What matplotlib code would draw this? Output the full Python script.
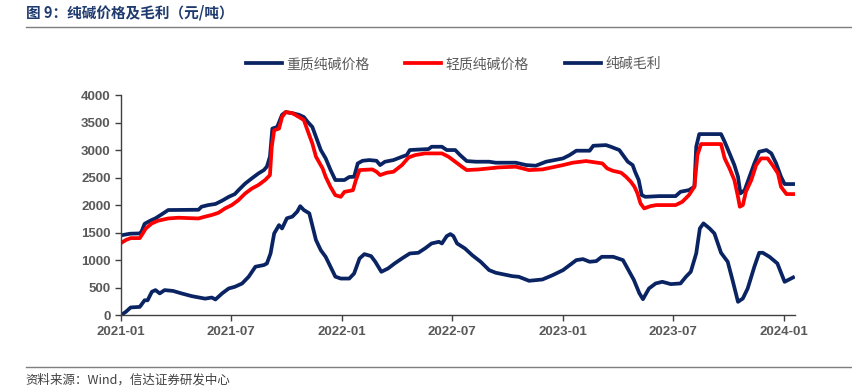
import pandas as pd
import matplotlib
matplotlib.use('Agg')
import matplotlib.pyplot as plt
import matplotlib.dates as mdates
from matplotlib.lines import Line2D

plt.rcParams['font.family'] = ['Liberation Sans', 'Noto Sans CJK SC', 'DejaVu Sans']

# 重质纯碱价格
heavy_dates = ['2021-01-01', '2021-01-16', '2021-02-01', '2021-02-04', '2021-02-09', '2021-02-19',
               '2021-02-27', '2021-03-09', '2021-03-20', '2021-05-09', '2021-05-14', '2021-05-25',
               '2021-06-06', '2021-06-17', '2021-06-28', '2021-07-08', '2021-07-14', '2021-07-25',
               '2021-08-05', '2021-08-16', '2021-08-25', '2021-08-30', '2021-09-04', '2021-09-08',
               '2021-09-16', '2021-09-24', '2021-09-30', '2021-10-11', '2021-10-22', '2021-10-30',
               '2021-11-05', '2021-11-13', '2021-11-19', '2021-11-27', '2021-12-05', '2021-12-13',
               '2021-12-21', '2022-01-05', '2022-01-13', '2022-01-21', '2022-01-27', '2022-02-04',
               '2022-02-15', '2022-02-27', '2022-03-05', '2022-03-13', '2022-03-27', '2022-04-10',
               '2022-04-18', '2022-04-23', '2022-05-13', '2022-05-24', '2022-05-29', '2022-06-15',
               '2022-06-23', '2022-07-07', '2022-07-15', '2022-07-26', '2022-08-10', '2022-09-01',
               '2022-09-12', '2022-10-15', '2022-11-01', '2022-11-17', '2022-12-04', '2023-01-01',
               '2023-01-12', '2023-01-23', '2023-02-14', '2023-02-20', '2023-03-13', '2023-03-21',
               '2023-04-04', '2023-04-10', '2023-04-18', '2023-04-26', '2023-04-30', '2023-05-06',
               '2023-05-11', '2023-05-17', '2023-06-09', '2023-07-06', '2023-07-14', '2023-07-28',
               '2023-08-06', '2023-08-09', '2023-08-14', '2023-09-19', '2023-09-25', '2023-10-03',
               '2023-10-11', '2023-10-17', '2023-10-21', '2023-10-28', '2023-11-05', '2023-11-13',
               '2023-11-21', '2023-12-03', '2023-12-11', '2023-12-19', '2023-12-27', '2024-01-02',
               '2024-01-16']
heavy_price = [1450, 1480, 1485, 1520, 1660, 1720, 1760, 1830, 1910, 1915, 1970, 2000,
               2020, 2080, 2150, 2200, 2270, 2390, 2485, 2575, 2636, 2700, 2880, 3390,
               3420, 3640, 3690, 3670, 3640, 3600, 3515, 3420, 3240, 3000, 2850, 2640,
               2455, 2455, 2510, 2515, 2757, 2805, 2818, 2805, 2727, 2788, 2818, 2878,
               2909, 3000, 3012, 3018, 3060, 3060, 3000, 3000, 2909, 2800, 2788, 2788,
               2770, 2770, 2727, 2715, 2788, 2848, 2909, 2988, 2988, 3078, 3090, 3060,
               3000, 2909, 2788, 2727, 2606, 2455, 2182, 2150, 2163, 2163, 2242, 2272,
               2333, 3060, 3290, 3290, 3150, 2940, 2727, 2515, 2212, 2272, 2515, 2757,
               2969, 3000, 2940, 2757, 2515, 2382, 2382]

# 轻质纯碱价格
light_dates = ['2021-01-01', '2021-01-09', '2021-01-17', '2021-02-01', '2021-02-06', '2021-02-11',
               '2021-02-21', '2021-03-03', '2021-03-20', '2021-04-06', '2021-05-09', '2021-05-20',
               '2021-05-31', '2021-06-11', '2021-06-22', '2021-07-03', '2021-07-14', '2021-07-25',
               '2021-08-05', '2021-08-16', '2021-08-27', '2021-09-04', '2021-09-07', '2021-09-11',
               '2021-09-19', '2021-09-24', '2021-09-30', '2021-10-11', '2021-10-22', '2021-10-30',
               '2021-11-05', '2021-11-13', '2021-11-19', '2021-11-30', '2021-12-05', '2021-12-13',
               '2021-12-21', '2021-12-30', '2022-01-05', '2022-01-19', '2022-01-24', '2022-01-30',
               '2022-02-20', '2022-02-27', '2022-03-05', '2022-03-16', '2022-03-27', '2022-04-10',
               '2022-04-21', '2022-05-02', '2022-05-18', '2022-06-15', '2022-06-26', '2022-07-07',
               '2022-07-18', '2022-07-26', '2022-08-15', '2022-09-17', '2022-10-15', '2022-11-06',
               '2022-11-28', '2023-01-01', '2023-01-17', '2023-02-08', '2023-03-07', '2023-03-15',
               '2023-03-24', '2023-04-07', '2023-04-15', '2023-04-23', '2023-04-29', '2023-05-04',
               '2023-05-09', '2023-05-15', '2023-05-26', '2023-06-04', '2023-07-06', '2023-07-17',
               '2023-07-28', '2023-08-06', '2023-08-11', '2023-08-17', '2023-09-19', '2023-09-25',
               '2023-10-03', '2023-10-11', '2023-10-17', '2023-10-20', '2023-10-25', '2023-10-30',
               '2023-11-08', '2023-11-16', '2023-11-24', '2023-12-05', '2023-12-13', '2023-12-22',
               '2023-12-27', '2024-01-05', '2024-01-16']
light_price = [1310, 1365, 1400, 1400, 1485, 1575, 1667, 1715, 1757, 1770, 1757, 1790,
               1820, 1860, 1940, 2000, 2090, 2210, 2300, 2365, 2455, 2545, 3060, 3360,
               3390, 3600, 3690, 3670, 3600, 3545, 3360, 3120, 2880, 2666, 2515, 2330,
               2180, 2150, 2240, 2270, 2455, 2636, 2648, 2606, 2545, 2588, 2606, 2727,
               2866, 2909, 2939, 2939, 2878, 2788, 2697, 2636, 2648, 2685, 2697, 2636,
               2648, 2727, 2770, 2800, 2757, 2666, 2624, 2588, 2515, 2424, 2333, 2212,
               2030, 1940, 1982, 2000, 2000, 2060, 2182, 2333, 2909, 3109, 3109, 2848,
               2666, 2455, 2150, 1970, 2000, 2242, 2455, 2727, 2848, 2848, 2727, 2575,
               2333, 2200, 2200]

# 纯碱毛利
margin_dates = ['2021-01-01', '2021-01-09', '2021-01-17', '2021-02-01', '2021-02-09', '2021-02-14',
                '2021-02-21', '2021-02-27', '2021-03-06', '2021-03-14', '2021-03-28', '2021-04-11',
                '2021-04-28', '2021-05-20', '2021-05-31', '2021-06-06', '2021-06-17', '2021-06-28',
                '2021-07-08', '2021-07-20', '2021-07-31', '2021-08-11', '2021-08-25', '2021-08-30',
                '2021-09-05', '2021-09-11', '2021-09-19', '2021-09-24', '2021-10-02', '2021-10-11',
                '2021-10-19', '2021-10-24', '2021-10-30', '2021-11-08', '2021-11-19', '2021-11-27',
                '2021-12-05', '2021-12-13', '2021-12-21', '2021-12-30', '2022-01-13', '2022-01-21',
                '2022-01-30', '2022-02-07', '2022-02-18', '2022-02-25', '2022-03-07', '2022-03-18',
                '2022-03-29', '2022-04-10', '2022-04-23', '2022-05-07', '2022-05-18', '2022-05-29',
                '2022-06-10', '2022-06-15', '2022-06-23', '2022-06-29', '2022-07-04', '2022-07-10',
                '2022-07-23', '2022-08-04', '2022-08-18', '2022-09-01', '2022-09-12', '2022-09-23',
                '2022-10-09', '2022-10-20', '2022-11-06', '2022-11-17', '2022-11-28', '2022-12-15',
                '2023-01-01', '2023-01-23', '2023-02-03', '2023-02-14', '2023-02-25', '2023-03-06',
                '2023-03-25', '2023-04-10', '2023-04-20', '2023-04-28', '2023-05-07', '2023-05-13',
                '2023-05-23', '2023-06-03', '2023-06-14', '2023-06-28', '2023-07-14', '2023-07-23',
                '2023-07-31', '2023-08-09', '2023-08-15', '2023-08-21', '2023-08-31', '2023-09-08',
                '2023-09-19', '2023-09-30', '2023-10-08', '2023-10-17', '2023-10-25', '2023-11-02',
                '2023-11-13', '2023-11-21', '2023-11-27', '2023-12-08', '2023-12-21', '2024-01-02',
                '2024-01-16']
margin = [0, 60, 140, 150, 270, 270, 425, 455, 395, 455, 440, 395,
          345, 300, 320, 285, 395, 485, 515, 575, 700, 880, 910, 940,
          1120, 1485, 1636, 1575, 1760, 1790, 1880, 1980, 1910, 1850, 1365, 1180,
          1060, 880, 700, 665, 665, 757, 1030, 1109, 1073, 970, 788, 848,
          940, 1030, 1121, 1133, 1212, 1303, 1333, 1303, 1436, 1473, 1436, 1303,
          1212, 1090, 970, 818, 770, 745, 709, 697, 624, 636, 648, 727,
          818, 1000, 1018, 970, 982, 1060, 1060, 1000, 800, 640, 400, 290,
          485, 576, 606, 564, 576, 697, 788, 1121, 1576, 1667, 1576, 1485,
          1133, 970, 636, 242, 303, 485, 879, 1133, 1133, 1060, 940, 606,
          685]

navy = '#0A2463'
red = '#FF0000'
gray = '#595959'

fig = plt.figure(figsize=(8.52, 3.91), dpi=100)
ax = fig.add_axes([0.142, 0.194, 0.791, 0.563])

ax.plot(pd.to_datetime(heavy_dates), heavy_price, color=navy, lw=2.7, solid_joinstyle='round')
ax.plot(pd.to_datetime(light_dates), light_price, color=red, lw=2.7, solid_joinstyle='round')
ax.plot(pd.to_datetime(margin_dates), margin, color=navy, lw=2.7, solid_joinstyle='round')

ax.set_xlim(pd.Timestamp('2021-01-01'), pd.Timestamp('2024-01-19'))
ax.set_ylim(0, 4000)
ax.set_yticks(range(0, 4001, 500))
ax.xaxis.set_major_locator(mdates.MonthLocator(bymonth=[1, 7]))
ax.xaxis.set_major_formatter(mdates.DateFormatter('%Y-%m'))

for s in ['top', 'right']:
    ax.spines[s].set_visible(False)
for s in ['left', 'bottom']:
    ax.spines[s].set_color('#404040')
    ax.spines[s].set_linewidth(1.0)
ax.tick_params(axis='both', direction='out', length=4, width=1.0, color='#404040',
               labelsize=9.5, labelcolor=gray)
for lab in ax.get_xticklabels() + ax.get_yticklabels():
    lab.set_fontweight('bold')

handles = [Line2D([], [], color=navy, lw=2.7),
           Line2D([], [], color=red, lw=2.7),
           Line2D([], [], color=navy, lw=2.7)]
leg = fig.legend(handles, ['重质纯碱价格', '轻质纯碱价格', '纯碱毛利'], loc='center',
                 bbox_to_anchor=(0.532, 0.836), ncol=3, frameon=False, handlelength=2.6,
                 handletextpad=0.3, columnspacing=2.6,
                 prop={'family': ['Noto Sans CJK SC'], 'size': 10})
for t in leg.get_texts():
    t.set_color(gray)

# title and source lines
fig.text(0.03, 0.968, '图 9：纯碱价格及毛利（元/吨）', color='#1F3A6E', fontsize=10.5,
         fontweight='bold', family=['Noto Sans CJK SC'], va='center')
fig.add_artist(Line2D([0.03, 1.0], [0.93, 0.93], color='#7F7F7F', lw=1.0))
fig.add_artist(Line2D([0.03, 1.0], [0.062, 0.062], color='#7F7F7F', lw=1.0))
fig.text(0.03, 0.028, '资料来源：Wind，信达证券研发中心', color='#404040', fontsize=9,
         style='italic', family=['Noto Sans CJK SC'], va='center')

fig.savefig('out.png', dpi=100)
